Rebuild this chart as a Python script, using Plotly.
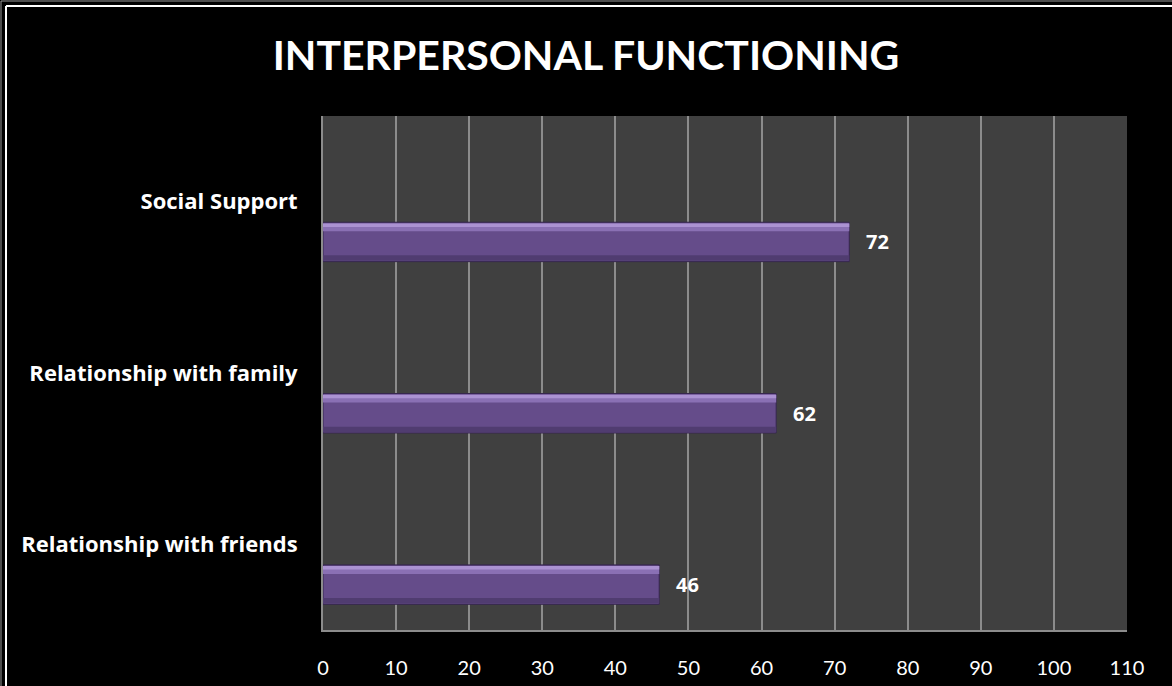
import plotly.graph_objects as go

# Chart data
categories = ["Relationship with friends", "Relationship with family", "Social Support"]
values = [46, 62, 72]
x_ticks = [0, 10, 20, 30, 40, 50, 60, 70, 80, 90, 100, 110]

W, H = 1172, 686
ML, MR, MT, MB = 323, 45, 116, 56
FONT = "Lato, 'Open Sans', sans-serif"
LABEL_FONT = "'Open Sans', Lato, sans-serif"

# Bar geometry in category units (bars sit below the label centre)
BAR_W = 0.23
BAR_OFF = -0.35

fig = go.Figure()

# Main bar body
fig.add_trace(go.Bar(
    x=values, y=categories, orientation="h",
    width=BAR_W, offset=BAR_OFF,
    marker=dict(color="#654c8a", line=dict(color="#35264d", width=1)),
    hoverinfo="skip", showlegend=False,
))
# Upper bevel highlight
fig.add_trace(go.Bar(
    x=values, y=categories, orientation="h",
    width=BAR_W * 0.20, offset=BAR_OFF + BAR_W * 0.77,
    marker=dict(color="#8a70b4", line=dict(width=0)),
    hoverinfo="skip", showlegend=False,
))
fig.add_trace(go.Bar(
    x=values, y=categories, orientation="h",
    width=BAR_W * 0.09, offset=BAR_OFF + BAR_W * 0.88,
    marker=dict(color="#ab92d2", line=dict(width=0)),
    hoverinfo="skip", showlegend=False,
))
# Lower bevel shade
fig.add_trace(go.Bar(
    x=values, y=categories, orientation="h",
    width=BAR_W * 0.14, offset=BAR_OFF + BAR_W * 0.02,
    marker=dict(color="#503c70", line=dict(width=0)),
    hoverinfo="skip", showlegend=False,
))

# Value labels just past the end of each bar
annotations = []
for i, v in enumerate(values):
    annotations.append(dict(
        x=v, y=i + BAR_OFF + BAR_W / 2, xref="x", yref="y",
        text=f"<b>{v}</b>", showarrow=False, xanchor="left", yanchor="middle",
        xshift=15, font=dict(family=LABEL_FONT, size=20, color="white"),
    ))

pw = W - ML - MR
ph = H - MT - MB


def px_x(p):
    return (p - ML) / pw


def px_y(p):
    return (H - MB - p) / ph


# Frame lines along the top and left edges of the page
shapes = []
for pos, col, lw in [(1, "#9a9a9a", 1), (6, "white", 2)]:
    shapes.append(dict(type="line", xref="paper", yref="paper",
                       x0=px_x(pos), x1=px_x(W), y0=px_y(pos), y1=px_y(pos),
                       line=dict(color=col, width=lw)))
    shapes.append(dict(type="line", xref="paper", yref="paper",
                       x0=px_x(pos), x1=px_x(pos), y0=px_y(pos), y1=px_y(H),
                       line=dict(color=col, width=lw)))

fig.update_layout(
    width=W, height=H,
    margin=dict(l=ML, r=MR, t=MT, b=MB, pad=0, autoexpand=False),
    paper_bgcolor="black", plot_bgcolor="#404040",
    barmode="overlay",
    title=dict(text="<b>INTERPERSONAL FUNCTIONING</b>", x=0.5, xanchor="center",
               y=1 - 56 / H, yanchor="middle",
               font=dict(family=FONT, size=41, color="white")),
    xaxis=dict(range=[0, 110], tickvals=x_ticks, ticktext=[str(t) for t in x_ticks],
               showgrid=True, gridcolor="#8c8c8c", gridwidth=1.5,
               showline=True, linecolor="#8c8c8c", linewidth=2,
               zeroline=False, ticks="", ticklabelstandoff=19, automargin=False,
               tickfont=dict(family=FONT, size=20, color="white")),
    yaxis=dict(type="category", categoryorder="array", categoryarray=categories,
               range=[-0.5, 2.5], showgrid=False, zeroline=False,
               showline=True, linecolor="#8c8c8c", linewidth=2,
               ticks="", ticklabelstandoff=19, automargin=False,
               tickfont=dict(family=LABEL_FONT, size=22, color="white", weight="bold")),
    shapes=shapes,
    annotations=annotations,
)

fig.write_html("out.html")
